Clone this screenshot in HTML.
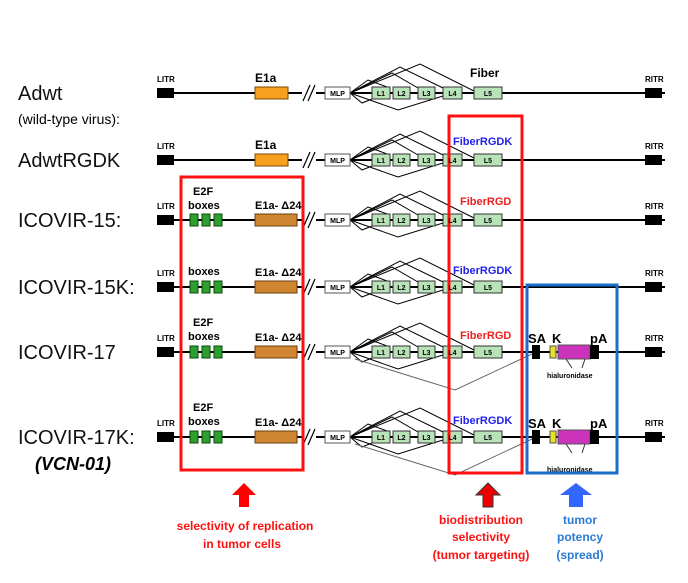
<!DOCTYPE html>
<html><head><meta charset="utf-8"><style>
html,body{margin:0;padding:0;background:#fff;}
svg{display:block;font-family:"Liberation Sans",Arial,sans-serif;}
</style></head><body>
<svg width="688" height="583" viewBox="0 0 688 583" xmlns="http://www.w3.org/2000/svg">
<defs>
<g id="row">
<path d="M157 0 H665" stroke="#000" stroke-width="2"/>
<rect x="157" y="-5" width="17" height="10" fill="#000"/>
<rect x="645" y="-5" width="17" height="10" fill="#000"/>
<rect x="302" y="-8" width="14" height="16" fill="#fff"/>
<path d="M303 8 L310 -8 M308 8 L315 -8" stroke="#000" stroke-width="1.2"/>
<g fill="none" stroke="#000" stroke-width="1">
<path d="M350 0 L368 -13 L390 -5"/>
<path d="M350 0 L392 -20 L418 -5"/>
<path d="M350 0 L400 -26 L443 -5"/>
<path d="M350 0 L420 -29 L474 -2"/>
<path d="M350 0 L362 10 L372 6"/>
<path d="M350 0 L398 17 L443 3"/>
</g>
<rect x="325" y="-6" width="25" height="12" fill="#fff" stroke="#555"/>
<g fill="#b8e2b8" stroke="#333">
<rect x="372" y="-6" width="18" height="12"/>
<rect x="393" y="-6" width="17" height="12"/>
<rect x="418" y="-6" width="17" height="12"/>
<rect x="443" y="-6" width="19" height="12"/>
<rect x="474" y="-6" width="28" height="12"/>
</g>
</g>
<g id="e2f">
<g fill="#2e9e2e" stroke="#0a4a0a"><rect x="190" y="-6" width="8" height="12"/><rect x="202" y="-6" width="8" height="12"/><rect x="214" y="-6" width="8" height="12"/></g>
<rect x="255" y="-6" width="42" height="12" fill="#d08530" stroke="#6a4010"/>
</g>
<g id="cass">
<path d="M355 7 L455 38 L532 2" fill="none" stroke="#666" stroke-width="1"/>
<rect x="532" y="-7" width="8" height="14" fill="#000"/>
<rect x="550" y="-6" width="6" height="12" fill="#e8e020" stroke="#555"/>
<rect x="558" y="-7" width="32" height="14" fill="#cc33bb" stroke="#555"/>
<rect x="590" y="-7" width="9" height="14" fill="#000"/>
<path d="M566 7 L572 16 M585 7 L582 16" stroke="#333"/>
</g>
</defs>
<g font-size="8" font-weight="bold">
<g font-size="20" font-weight="normal" fill="#111">
<text x="18" y="100">Adwt</text>
<text x="18" y="167">AdwtRGDK</text>
<text x="18" y="227">ICOVIR-15:</text>
<text x="18" y="294">ICOVIR-15K:</text>
<text x="18" y="359">ICOVIR-17</text>
<text x="18" y="444">ICOVIR-17K:</text>
</g>
<text x="18" y="124" font-size="14" font-weight="normal">(wild-type virus):</text>
<text x="35" y="470" font-size="18" font-style="italic">(VCN-01)</text>

<use href="#row" y="93"/>
<use href="#row" y="160"/>
<use href="#row" y="220"/>
<use href="#row" y="287"/>
<use href="#row" y="352"/>
<use href="#row" y="437"/>
<rect x="255" y="87" width="33" height="12" fill="#f7a020" stroke="#7a4a00"/>
<rect x="255" y="154" width="33" height="12" fill="#f7a020" stroke="#7a4a00"/>
<use href="#e2f" y="220"/>
<use href="#e2f" y="287"/>
<use href="#e2f" y="352"/>
<use href="#e2f" y="437"/>
<use href="#cass" y="352"/>
<use href="#cass" y="437"/>

<g font-size="8">
<text x="157" y="82">LITR</text><text x="157" y="149">LITR</text><text x="157" y="209">LITR</text><text x="157" y="276">LITR</text><text x="157" y="341">LITR</text><text x="157" y="426">LITR</text>
<text x="645" y="82">RITR</text><text x="645" y="149">RITR</text><text x="645" y="209">RITR</text><text x="645" y="276">RITR</text><text x="645" y="341">RITR</text><text x="645" y="426">RITR</text>
</g>
<g font-size="12">
<text x="255" y="82">E1a</text><text x="255" y="149">E1a</text>
<text x="470" y="77">Fiber</text>
<text x="453" y="145" fill="#2020ee" font-size="11">FiberRGDK</text>
<text x="460" y="205" fill="#ee2020" font-size="11">FiberRGD</text>
<text x="453" y="274" fill="#2020ee" font-size="11">FiberRGDK</text>
<text x="460" y="339" fill="#ee2020" font-size="11">FiberRGD</text>
<text x="453" y="424" fill="#2020ee" font-size="11">FiberRGDK</text>
</g>
<g font-size="11">
<text x="193" y="195">E2F</text><text x="188" y="209">boxes</text>
<text x="188" y="275">boxes</text>
<text x="193" y="326">E2F</text><text x="188" y="340">boxes</text>
<text x="193" y="411">E2F</text><text x="188" y="425">boxes</text>
<text x="255" y="209">E1a- Δ24</text><text x="255" y="276">E1a- Δ24</text><text x="255" y="341">E1a- Δ24</text><text x="255" y="426">E1a- Δ24</text>
</g>
<g font-size="13">
<text x="528" y="343">SA</text><text x="552" y="343">K</text><text x="590" y="343">pA</text>
<text x="528" y="428">SA</text><text x="552" y="428">K</text><text x="590" y="428">pA</text>
</g>
<text x="547" y="378" font-size="7">hialuronidase</text>
<text x="547" y="472" font-size="7">hialuronidase</text>

<rect x="181" y="177" width="122" height="293" fill="none" stroke="#ff1010" stroke-width="3"/>
<rect x="449" y="116" width="73" height="357" fill="none" stroke="#ff1010" stroke-width="3"/>
<rect x="527" y="285" width="90" height="188" fill="none" stroke="#1a6ec8" stroke-width="3"/>

<g font-size="7" text-anchor="middle">
<g id="lt">
<text x="337.5" y="96">MLP</text><text x="381" y="96">L1</text><text x="401.5" y="96">L2</text><text x="426.5" y="96">L3</text><text x="452.5" y="96">L4</text><text x="488" y="96">L5</text>
</g>
<use href="#lt" y="67"/><use href="#lt" y="127"/><use href="#lt" y="194"/><use href="#lt" y="259"/><use href="#lt" y="344"/>
</g>

<path d="M232 495 L244 483 L256 495 L249 495 L249 507 L239 507 L239 495 Z" fill="#ff0000"/>
<path d="M476 495 L488 483 L500 495 L493 495 L493 507 L483 507 L483 495 Z" fill="#ee0000" stroke="#333"/>
<path d="M560 495 L576 483 L592 495 L583 495 L583 507 L569 507 L569 495 Z" fill="#3366ff"/>

<g font-size="12" text-anchor="middle" fill="#ff1010">
<text x="245" y="530">selectivity of replication</text>
<text x="242" y="548">in tumor cells</text>
<text x="481" y="524">biodistribution</text>
<text x="481" y="541">selectivity</text>
<text x="481" y="559">(tumor targeting)</text>
</g>
<g font-size="12" text-anchor="middle" fill="#2a7ad0">
<text x="580" y="524">tumor</text>
<text x="580" y="541">potency</text>
<text x="580" y="559">(spread)</text>
</g>
</g>
</svg>
</body></html>
